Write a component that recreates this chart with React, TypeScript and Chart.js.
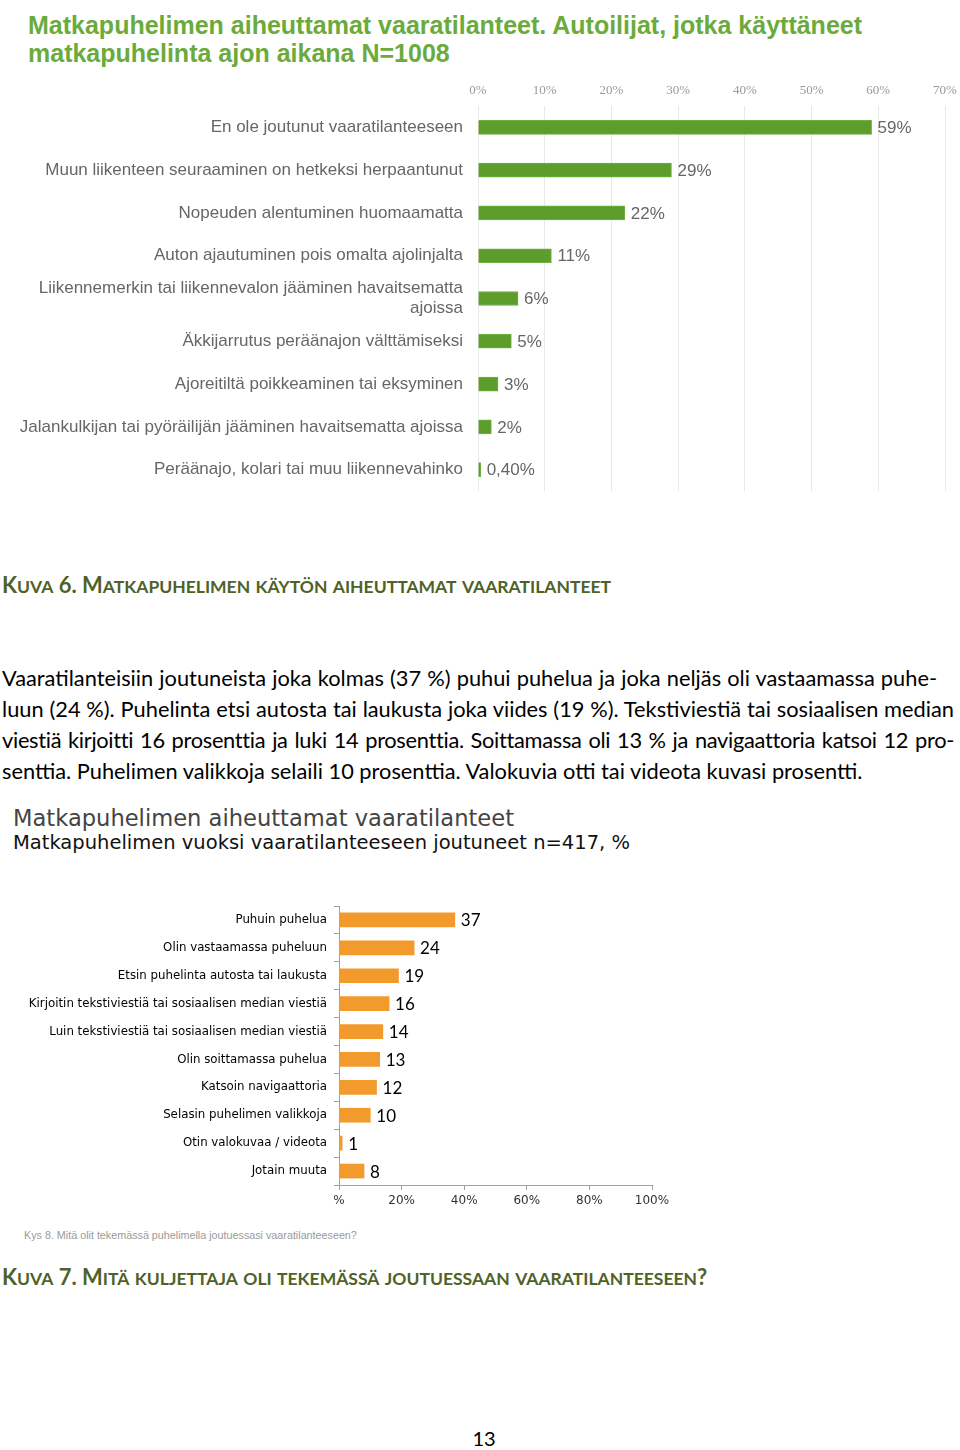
import React, { useEffect, useRef } from "react";
import { Chart, registerables } from "chart.js";

Chart.register(...registerables);

// ---------- Data: chart 1 (Kuva 6) ----------
const topCategories: (string | string[])[] = [
  "En ole joutunut vaaratilanteeseen",
  "Muun liikenteen seuraaminen on hetkeksi herpaantunut",
  "Nopeuden alentuminen huomaamatta",
  "Auton ajautuminen pois omalta ajolinjalta",
  ["Liikennemerkin tai liikennevalon jääminen havaitsematta", "ajoissa"],
  "Äkkijarrutus peräänajon välttämiseksi",
  "Ajoreitiltä poikkeaminen tai eksyminen",
  "Jalankulkijan tai pyöräilijän jääminen havaitsematta ajoissa",
  "Peräänajo, kolari tai muu liikennevahinko",
];
const topValues = [59, 29, 22, 11, 6, 5, 3, 2, 0.4];
const topValueLabels = ["59%", "29%", "22%", "11%", "6%", "5%", "3%", "2%", "0,40%"];
const topAxisMax = 70;
const topAxisStep = 10;

// ---------- Data: chart 2 (Kuva 7) ----------
const bottomCategories = [
  "Puhuin puhelua",
  "Olin vastaamassa puheluun",
  "Etsin puhelinta autosta tai laukusta",
  "Kirjoitin tekstiviestiä tai sosiaalisen median viestiä",
  "Luin tekstiviestiä tai sosiaalisen median viestiä",
  "Olin soittamassa puhelua",
  "Katsoin navigaattoria",
  "Selasin puhelimen valikkoja",
  "Otin valokuvaa / videota",
  "Jotain muuta",
];
const bottomValues = [37, 24, 19, 16, 14, 13, 12, 10, 1, 8];
const bottomAxisMax = 100;
const bottomAxisStep = 20;

function makeValueLabelPlugin(labels: string[], font: string, color: string, offset: number) {
  return {
    id: "valueLabels",
    afterDatasetsDraw(chart: any) {
      const ctx = chart.ctx;
      const meta = chart.getDatasetMeta(0);
      ctx.save();
      ctx.font = font;
      ctx.fillStyle = color;
      ctx.textAlign = "left";
      ctx.textBaseline = "middle";
      meta.data.forEach((bar: any, i: number) => {
        ctx.fillText(labels[i], bar.x + offset, bar.y + 1);
      });
      ctx.restore();
    },
  };
}

const zeroYPadding = (s: any) => {
  s.paddingTop = 0;
  s.paddingBottom = 0;
};
const zeroXPadding = (s: any) => {
  s.paddingLeft = 0;
  s.paddingRight = 0;
};

function TopChart() {
  const ref = useRef<HTMLCanvasElement>(null);
  useEffect(() => {
    const chart = new Chart(ref.current!, {
      type: "bar",
      data: {
        labels: topCategories,
        datasets: [
          {
            data: topValues,
            backgroundColor: "#5c9d2c",
            borderColor: "#6fb043",
            borderWidth: 1,
            barThickness: 14,
          },
        ],
      },
      options: {
        indexAxis: "y",
        responsive: false,
        animation: false,
        layout: { padding: { left: 0, right: 15, top: 0, bottom: 11 } },
        plugins: { legend: { display: false }, tooltip: { enabled: false } },
        scales: {
          x: {
            position: "top",
            min: 0,
            max: topAxisMax,
            ticks: {
              stepSize: topAxisStep,
              callback: (v: any) => v + "%",
              color: "#9a9a9a",
              font: { family: "Liberation Sans Narrow", size: 13 },
              padding: 8,
            },
            grid: { color: "#e8e8e8", drawTicks: false },
            border: { display: false },
            afterFit: (s: any) => {
              s.height = 34;
              zeroXPadding(s);
            },
          },
          y: {
            ticks: {
              color: "#666666",
              font: { family: "Liberation Sans", size: 17 },
              padding: 7,
              autoSkip: false,
            },
            grid: { display: false },
            border: { display: false },
            afterFit: (s: any) => {
              s.width = 478;
              zeroYPadding(s);
            },
          },
        },
      } as any,
      plugins: [makeValueLabelPlugin(topValueLabels, "17px 'Liberation Sans'", "#666666", 6)],
    });
    return () => chart.destroy();
  }, []);
  return <canvas ref={ref} width={960} height={430} style={{ display: "block" }} />;
}

function BottomChart() {
  const ref = useRef<HTMLCanvasElement>(null);
  useEffect(() => {
    const chart = new Chart(ref.current!, {
      type: "bar",
      data: {
        labels: bottomCategories,
        datasets: [
          {
            data: bottomValues,
            backgroundColor: "#f39a2c",
            barThickness: 14,
          },
        ],
      },
      options: {
        indexAxis: "y",
        responsive: false,
        animation: false,
        layout: { padding: { left: 0, right: 48, top: 10, bottom: 0 } },
        plugins: { legend: { display: false }, tooltip: { enabled: false } },
        scales: {
          x: {
            min: 0,
            max: bottomAxisMax,
            ticks: {
              stepSize: bottomAxisStep,
              callback: (v: any) => (v === 0 ? "%" : v + "%"),
              color: "#333333",
              font: { family: "DejaVu Sans", size: 12 },
              padding: 4,
            },
            grid: { drawOnChartArea: false, drawTicks: true, tickLength: 5, color: "#a0a0a0" },
            border: { display: true, color: "#a0a0a0" },
            afterFit: (s: any) => {
              s.height = 29;
              zeroXPadding(s);
            },
          },
          y: {
            ticks: {
              color: "#000000",
              font: { family: "DejaVu Sans", size: 11.8 },
              padding: 7,
              autoSkip: false,
            },
            grid: { drawOnChartArea: false, tickLength: 5, color: "#a0a0a0", offset: true },
            border: { display: true, color: "#a0a0a0" },
            afterFit: (s: any) => {
              s.width = 339;
              zeroYPadding(s);
            },
          },
        },
      } as any,
      plugins: [
        makeValueLabelPlugin(
          bottomValues.map((v) => String(v)),
          "17px 'Lato'",
          "#000000",
          6
        ),
      ],
    });
    return () => chart.destroy();
  }, []);
  return <canvas ref={ref} width={700} height={318} style={{ display: "block" }} />;
}

const abs = (left: number, top: number, extra: React.CSSProperties = {}): React.CSSProperties => ({
  position: "absolute",
  left,
  top,
  margin: 0,
  whiteSpace: "nowrap",
  ...extra,
});

function SmallCaps({ text, big, small }: { text: string; big: number; small: number }) {
  const parts: React.ReactNode[] = [];
  let i = 0;
  while (i < text.length) {
    const ch = text[i];
    const isLower = ch !== ch.toUpperCase();
    let j = i + 1;
    while (j < text.length) {
      const c = text[j];
      const l = c !== c.toUpperCase();
      if (l !== isLower) break;
      j++;
    }
    const seg = text.slice(i, j);
    parts.push(
      <span key={i} style={{ fontSize: isLower ? small : big }}>
        {isLower ? seg.toUpperCase() : seg}
      </span>
    );
    i = j;
  }
  return <>{parts}</>;
}

const captionStyle: React.CSSProperties = {
  fontFamily: "Lato, 'Open Sans', sans-serif",
  fontWeight: 700,
  lineHeight: "24px",
  color: "#4f6228",
};

const paraStyle: React.CSSProperties = {
  fontFamily: "Lato, sans-serif",
  fontSize: 21.8,
  lineHeight: "31px",
  color: "#000",
  textAlign: "justify",
  textAlignLast: "justify",
  whiteSpace: "normal",
};

export default function App() {
  return (
    <div
      style={{
        position: "absolute",
        left: 0,
        top: 0,
        width: 960,
        height: 1450,
        background: "#fff",
        overflow: "hidden",
      }}
    >
      {/* Chart 1 title */}
      <div
        style={abs(28, 11, {
          fontFamily: "'Liberation Sans Narrow', sans-serif",
          fontWeight: 700,
          fontSize: 25,
          lineHeight: "28px",
          color: "#6aab3c",
        })}
      >
        Matkapuhelimen aiheuttamat vaaratilanteet. Autoilijat, jotka käyttäneet
        <br />
        matkapuhelinta ajon aikana N=1008
      </div>

      <div style={abs(0, 72)}>
        <TopChart />
      </div>

      <div style={abs(2, 573, captionStyle)}>
        <SmallCaps text="Kuva 6. Matkapuhelimen käytön aiheuttamat vaaratilanteet" big={22} small={17.5} />
      </div>

      <div style={abs(2, 661.5, { ...paraStyle, width: 935 })}>
        Vaaratilanteisiin joutuneista joka kolmas (37 %) puhui puhelua ja joka neljäs oli vastaamassa puhe-
      </div>
      <div style={abs(2, 692.5, { ...paraStyle, width: 952 })}>
        luun (24 %). Puhelinta etsi autosta tai laukusta joka viides (19 %). Tekstiviestiä tai sosiaalisen median
      </div>
      <div style={abs(2, 723.5, { ...paraStyle, width: 952, letterSpacing: "-0.3px" })}>
        viestiä kirjoitti 16 prosenttia ja luki 14 prosenttia. Soittamassa oli 13 % ja navigaattoria katsoi 12 pro-
      </div>
      <div style={abs(2, 754.5, { ...paraStyle, textAlign: "left", textAlignLast: "left", whiteSpace: "nowrap" })}>
        senttia. Puhelimen valikkoja selaili 10 prosenttia. Valokuvia otti tai videota kuvasi prosentti.
      </div>

      {/* Chart 2 titles */}
      <div
        style={abs(13, 803, {
          fontFamily: "'DejaVu Sans', sans-serif",
          fontSize: 22.6,
          lineHeight: "30px",
          color: "#444",
        })}
      >
        Matkapuhelimen aiheuttamat vaaratilanteet
      </div>
      <div
        style={abs(13, 830, {
          fontFamily: "'DejaVu Sans', sans-serif",
          fontSize: 19.5,
          lineHeight: "26px",
          color: "#111",
        })}
      >
        Matkapuhelimen vuoksi vaaratilanteeseen joutuneet n=417, %
      </div>

      <div style={abs(0, 896)}>
        <BottomChart />
      </div>

      <div
        style={abs(24, 1228, {
          fontFamily: "'Liberation Sans', sans-serif",
          fontSize: 10.75,
          lineHeight: "14px",
          color: "#9a9a9a",
        })}
      >
        Kys 8. Mitä olit tekemässä puhelimella joutuessasi vaaratilanteeseen?
      </div>

      <div style={abs(2, 1265, captionStyle)}>
        <SmallCaps
          text="Kuva 7. Mitä kuljettaja oli tekemässä joutuessaan vaaratilanteeseen?"
          big={22}
          small={17.5}
        />
      </div>

      <div
        style={abs(0, 1426, {
          width: 968,
          textAlign: "center",
          fontFamily: "Lato, sans-serif",
          fontSize: 20,
          lineHeight: "24px",
          color: "#000",
        })}
      >
        13
      </div>
    </div>
  );
}
